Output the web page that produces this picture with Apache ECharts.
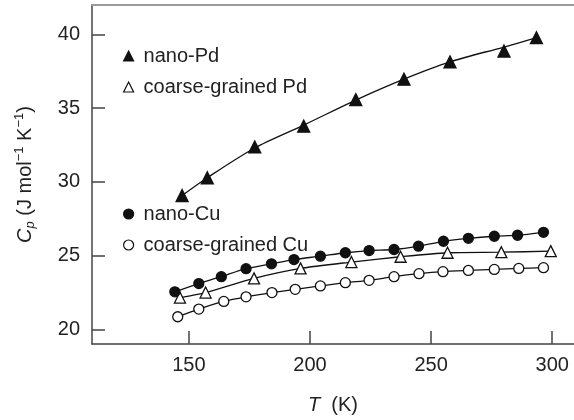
<!DOCTYPE html>
<html>
<head>
<meta charset="utf-8">
<script src="https://cdn.jsdelivr.net/npm/echarts@6/dist/echarts.min.js"></script>
<style>
  html, body { margin: 0; padding: 0; background: #fff; }
  #chart { width: 574px; height: 420px; }
</style>
</head>
<body>
<div id="chart"></div>
<script>
// 比热容数据

// nano-Pd（实心三角）
const nanoPdT  = [147.2, 157.6, 177.2, 197.4, 218.9, 238.8, 257.8, 280.1, 293.5];
const nanoPdCp = [29.07, 30.28, 32.37, 33.78, 35.58, 36.97, 38.14, 38.88, 39.78];

// nano-Pd 拟合曲线
const nanoPdFitT  = [147.2, 157.6, 177.2, 197.4, 218.9, 238.8, 257.8, 280.1, 293.5];
const nanoPdFitCp = [29.07, 30.28, 32.30, 33.85, 35.55, 36.97, 38.14, 39.15, 39.78];

// coarse-grained Pd（空心三角）
const coarsePdT  = [146.3, 156.9, 176.9, 196.1, 217.1, 237.4, 256.8, 279.0, 299.4];
const coarsePdCp = [22.15, 22.49, 23.45, 24.13, 24.56, 24.92, 25.19, 25.23, 25.30];

// nano-Cu（实心圆）
const nanoCuT  = [144.2, 154.1, 163.4, 173.6, 184.1, 193.4, 204.3, 214.6, 224.4, 234.7, 244.8, 255.1, 265.4, 276.1, 285.7, 296.4];
const nanoCuCp = [22.54, 23.10, 23.57, 24.11, 24.44, 24.73, 24.96, 25.19, 25.34, 25.41, 25.64, 25.97, 26.17, 26.31, 26.38, 26.58];

// coarse-grained Cu（空心圆）
const coarseCuT  = [145.4, 154.1, 164.4, 173.6, 184.3, 193.9, 204.3, 214.6, 224.4, 234.7, 245.0, 254.9, 265.4, 276.1, 286.2, 296.4];
const coarseCuCp = [20.85, 21.37, 21.89, 22.20, 22.49, 22.71, 22.94, 23.16, 23.32, 23.57, 23.77, 23.91, 23.99, 24.06, 24.13, 24.18];

// 刻度
const xTicks = [150, 200, 250, 300];
const yTicks = [20, 25, 30, 35, 40];

const FONT = "'Liberation Sans', Arial, sans-serif";
const INK = '#111';
const TEXT = '#222';
const AXIS = '#444';
const FS = 20;

const chart = echarts.init(document.getElementById('chart'));

function pairs(xs, ys) {
    return xs.map((x, i) => [x, ys[i]]);
}

function makeSeries(name, xs, ys, symbol, size, filled, showLine) {
    return {
        name: name,
        type: 'line',
        data: pairs(xs, ys),
        smooth: 0.25,
        symbol: symbol,
        symbolSize: size,
        showAllSymbol: true,
        lineStyle: { color: INK, width: showLine ? 1.3 : 0, opacity: showLine ? 1 : 0 },
        itemStyle: {
            color: filled ? INK : '#fff',
            borderColor: INK,
            borderWidth: 1.3
        },
        emphasis: { disabled: true },
        z: 3
    };
}

function legendItem(name, icon, filled) {
    return {
        name: name,
        icon: icon,
        itemStyle: {
            color: filled ? INK : '#fff',
            borderColor: INK,
            borderWidth: 1.2
        }
    };
}

const legendBase = {
    orient: 'vertical',
    left: 123,
    padding: 0,
    itemWidth: 10,
    itemHeight: 10,
    itemGap: 11,
    selectedMode: false,
    textStyle: {
        fontFamily: FONT,
        fontSize: FS,
        color: TEXT,
        lineHeight: 20,
        padding: [0, 0, 0, 5]
    }
};

const option = {
    animation: false,
    backgroundColor: '#fff',
    grid: { left: 92, top: 5, right: 0, bottom: 73 },
    legend: [
        Object.assign({}, legendBase, {
            top: 46,
            data: [
                legendItem('nano-Pd', 'triangle', true),
                legendItem('coarse-grained Pd', 'triangle', false)
            ]
        }),
        Object.assign({}, legendBase, {
            top: 204,
            data: [
                legendItem('nano-Cu', 'circle', true),
                legendItem('coarse-grained Cu', 'circle', false)
            ]
        })
    ],
    xAxis: [{
        type: 'value',
        min: 110,
        max: 309,
        name: '{it|T}  (K)',
        nameLocation: 'middle',
        nameGap: 51,
        nameTextStyle: {
            fontFamily: FONT,
            fontSize: FS,
            color: TEXT,
            rich: {
                it: { fontFamily: FONT, fontSize: FS, fontStyle: 'italic', color: TEXT }
            }
        },
        splitLine: { show: false },
        axisLine: { lineStyle: { color: AXIS, width: 1.5 } },
        axisTick: {
            inside: true,
            length: 13,
            customValues: xTicks,
            lineStyle: { color: AXIS, width: 1.5 }
        },
        axisLabel: {
            customValues: xTicks,
            margin: 11,
            fontFamily: FONT,
            fontSize: FS,
            color: TEXT
        }
    }, {
        type: 'value',
        position: 'top',
        min: 110,
        max: 309,
        axisLine: { show: true, lineStyle: { color: '#9a9a9a', width: 2 } },
        axisTick: { show: false },
        axisLabel: { show: false },
        splitLine: { show: false }
    }],
    yAxis: {
        type: 'value',
        min: 19,
        max: 42,
        name: '{it|C}{sub|p} (J mol{sup|−1} K{sup|−1})',
        nameLocation: 'middle',
        nameRotate: 90,
        nameGap: 55,
        nameTextStyle: {
            fontFamily: FONT,
            fontSize: FS,
            color: TEXT,
            lineHeight: 24,
            rich: {
                it: { fontFamily: FONT, fontSize: FS, fontStyle: 'italic', color: TEXT, lineHeight: 24 },
                sub: { fontFamily: FONT, fontSize: 13, fontStyle: 'italic', color: TEXT, verticalAlign: 'bottom', lineHeight: 12 },
                sup: { fontFamily: FONT, fontSize: 13, color: TEXT, verticalAlign: 'top', lineHeight: 12 }
            }
        },
        splitLine: { show: false },
        axisLine: { show: true, lineStyle: { color: AXIS, width: 1.5 } },
        axisTick: {
            show: true,
            inside: true,
            length: 13,
            customValues: yTicks,
            lineStyle: { color: AXIS, width: 1.5 }
        },
        axisLabel: {
            customValues: yTicks,
            margin: 12,
            fontFamily: FONT,
            fontSize: FS,
            color: TEXT
        }
    },
    series: [
        {
            name: 'nano-Pd fit',
            type: 'line',
            data: pairs(nanoPdFitT, nanoPdFitCp),
            smooth: 0.3,
            symbol: 'none',
            lineStyle: { color: INK, width: 1.3 },
            emphasis: { disabled: true },
            z: 2
        },
        makeSeries('nano-Pd', nanoPdT, nanoPdCp, 'triangle', 12, true, false),
        makeSeries('coarse-grained Pd', coarsePdT, coarsePdCp, 'triangle', 11, false, true),
        makeSeries('nano-Cu', nanoCuT, nanoCuCp, 'circle', 10, true, true),
        makeSeries('coarse-grained Cu', coarseCuT, coarseCuCp, 'circle', 10, false, true)
    ]
};

chart.setOption(option);
</script>
</body>
</html>
